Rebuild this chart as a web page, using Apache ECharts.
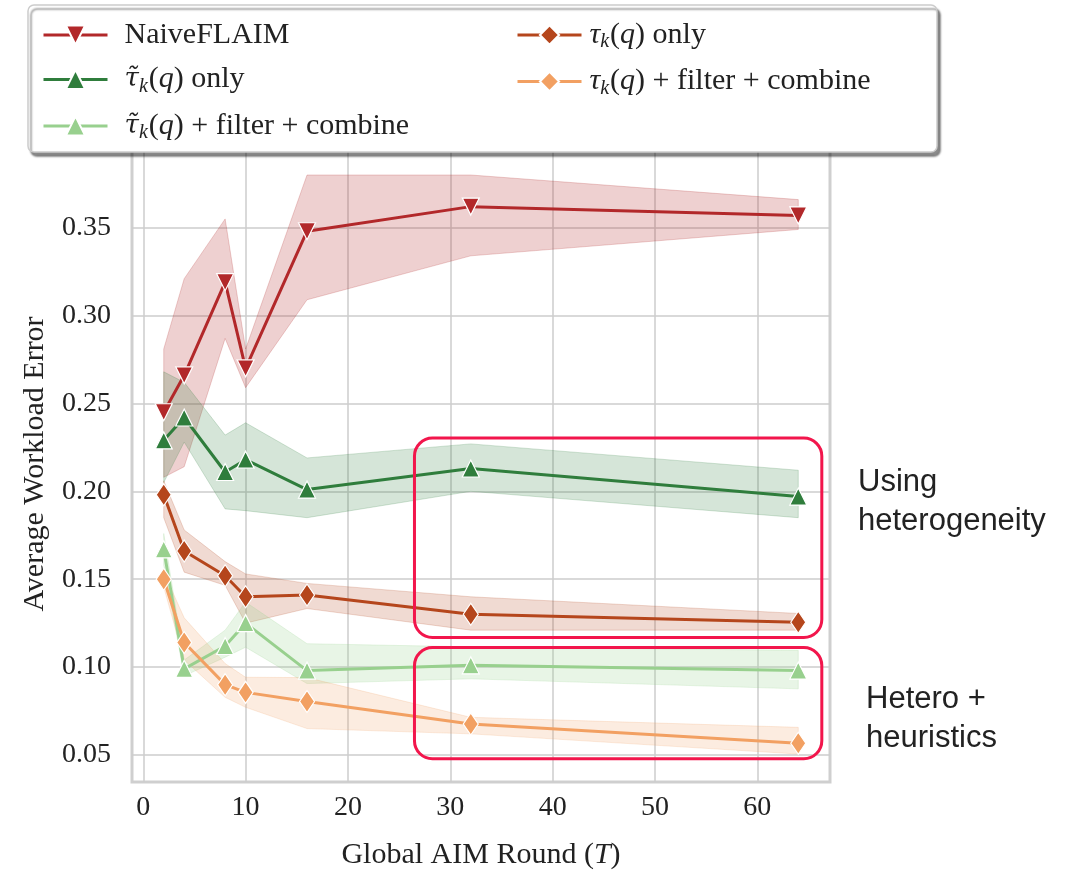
<!DOCTYPE html>
<html><head><meta charset="utf-8">
<script src="https://cdn.jsdelivr.net/npm/echarts@6/dist/echarts.min.js"></script>
<style>html,body{margin:0;padding:0;background:#fff}#c{width:1079px;height:871px}</style>
</head><body><div id="c"></div><script>
// ---- data ----
const rounds = [2, 4, 8, 10, 16, 32, 64];
const xTicks = [0, 10, 20, 30, 40, 50, 60];
const yTicks = [0.05, 0.10, 0.15, 0.20, 0.25, 0.30, 0.35];

const naiveMean = [0.245, 0.266, 0.319, 0.270, 0.348, 0.362, 0.357];
const naiveLow  = [0.208, 0.214, 0.287, 0.259, 0.309, 0.334, 0.349];
const naiveHigh = [0.281, 0.321, 0.355, 0.281, 0.380, 0.380, 0.366];

const tildeMean = [0.229, 0.242, 0.211, 0.218, 0.201, 0.213, 0.197];
const tildeLow  = [0.205, 0.228, 0.190, 0.189, 0.185, 0.200, 0.185];
const tildeHigh = [0.268, 0.262, 0.232, 0.239, 0.219, 0.227, 0.212];

const tauMean = [0.198, 0.166, 0.152, 0.140, 0.141, 0.130, 0.1255];
const tauLow  = [0.185, 0.154, 0.1465, 0.125, 0.1333, 0.121, 0.121];
const tauHigh = [0.206, 0.178, 0.160, 0.153, 0.1476, 0.140, 0.1305];

const tildeFcMean = [0.167, 0.099, 0.112, 0.125, 0.098, 0.101, 0.098];
const tildeFcLow  = [0.158, 0.095, 0.1056, 0.1113, 0.0906, 0.0933, 0.0876];
const tildeFcHigh = [0.176, 0.104, 0.121, 0.137, 0.1133, 0.1115, 0.1095];

const tauFcMean = [0.150, 0.114, 0.090, 0.0856, 0.0804, 0.0676, 0.0566];
const tauFcLow  = [0.1455, 0.104, 0.0828, 0.0771, 0.065, 0.062, 0.0505];
const tauFcHigh = [0.154, 0.128, 0.102, 0.0942, 0.094, 0.0714, 0.0657];

// annotation boxes in data coords [xStart, xEnd, yTop, yBottom]
const boxHetero = [26.5, 66.3, 0.2303, 0.1168];
const boxHeur   = [26.5, 66.3, 0.1111, 0.0478];

// ---- helpers ----
const SERIF = "'Liberation Serif', 'Times New Roman', serif";

function pairs(vals) { return rounds.map((r, i) => [r, vals[i]]); }

function band(name, low, high, fill) {
  return {
    type: 'custom', name: name + ' band', silent: true, z: 1, clip: true,
    data: [[rounds[0], low[0]]],
    encode: { x: 0, y: 1 },
    renderItem: function (params, api) {
      const pts = [];
      for (let i = 0; i < rounds.length; i++) pts.push(api.coord([rounds[i], high[i]]));
      for (let i = rounds.length - 1; i >= 0; i--) pts.push(api.coord([rounds[i], low[i]]));
      return { type: 'polygon', shape: { points: pts }, style: { fill: fill, stroke: fill, lineWidth: 1 } };
    }
  };
}

function line(name, vals, color, symbol, size, rotate) {
  return {
    type: 'line', name: name, data: pairs(vals), z: 3,
    symbol: symbol, symbolSize: size, symbolRotate: rotate || 0, showSymbol: true,
    lineStyle: { color: color, width: 3 },
    itemStyle: { color: color, borderColor: '#ffffff', borderWidth: 1.2 },
    emphasis: { disabled: true }
  };
}

const rich = {
  n: { fontFamily: SERIF, fontSize: 30, color: '#222', lineHeight: 34 },
  i: { fontFamily: SERIF, fontSize: 30, fontStyle: 'italic', color: '#222', lineHeight: 34 },
  t: { fontFamily: "'DejaVu Serif', serif", fontSize: 26, fontStyle: 'italic', color: '#222', lineHeight: 34 },
  s: { fontFamily: SERIF, fontSize: 20, fontStyle: 'italic', color: '#222', lineHeight: 34, verticalAlign: 'bottom', padding: [0, 1, 0, 0] }
};
const legendText = {
  'NaiveFLAIM': '{n|NaiveFLAIM}',
  'tilde only': '{t|\u03C4\u0303}{s|k}{n|(}{i|q}{n|) only}',
  'tilde fc': '{t|\u03C4\u0303}{s|k}{n|(}{i|q}{n|) + filter + combine}',
  'tau only': '{i|\u03C4}{s|k}{n|(}{i|q}{n|) only}',
  'tau fc': '{i|\u03C4}{s|k}{n|(}{i|q}{n|) + filter + combine}'
};

function legend(data, left, padLeft) {
  return {
    data: data, orient: 'vertical', left: left, top: 15, z: 20,
    itemWidth: 64, itemHeight: 24, itemGap: 14.5,
    lineStyle: { width: 3 },
    formatter: n => legendText[n],
    textStyle: { rich: rich, padding: [0, 0, 0, padLeft] },
    selectedMode: false
  };
}

const C = {
  naive: '#b2282a', tilde: '#2f7d3c', tau: '#b5461c', tildeFc: '#98d08e', tauFc: '#f2a062'
};

const chart = echarts.init(document.getElementById('c'), null, { renderer: 'canvas' });
chart.setOption({
  animation: false,
  backgroundColor: '#ffffff',
  grid: { left: 132, right: 249, top: 146, bottom: 89, show: true, borderColor: '#cfcfcf', borderWidth: 3, backgroundColor: 'transparent', outerBoundsMode: 'none', containLabel: false },
  xAxis: {
    type: 'value', min: -1.1, max: 67.1,
    name: '{n|Global AIM Round (}{i|T}{n|)}', nameLocation: 'middle', nameGap: 58,
    nameTextStyle: { rich: { n: { fontFamily: SERIF, fontSize: 30, color: '#222' }, i: { fontFamily: SERIF, fontSize: 30, fontStyle: 'italic', color: '#222' } } },
    axisLine: { show: false }, axisTick: { show: false, customValues: xTicks },
    axisLabel: { customValues: xTicks, fontFamily: SERIF, fontSize: 28, color: '#222', margin: 12 },
    splitLine: { show: true, lineStyle: { color: '#cccccc', width: 1.5 } }
  },
  yAxis: {
    type: 'value', min: 0.0346, max: 0.3965,
    name: 'Average Workload Error', nameLocation: 'middle', nameGap: 82,
    nameTextStyle: { fontFamily: SERIF, fontSize: 30, color: '#222' },
    axisLine: { show: false }, axisTick: { show: false, customValues: yTicks },
    axisLabel: { customValues: yTicks, fontFamily: SERIF, fontSize: 28, color: '#222', margin: 21, formatter: v => v.toFixed(2) },
    splitLine: { show: true, lineStyle: { color: '#cccccc', width: 1.5 } }
  },
  legend: [
    legend(['NaiveFLAIM', 'tilde only', 'tilde fc'], 37, 12),
    legend(['tau only', 'tau fc'], 511, 3)
  ],
  series: [
    band('NaiveFLAIM', naiveLow, naiveHigh, 'rgba(178,40,42,0.22)'),
    band('tilde only', tildeLow, tildeHigh, 'rgba(47,125,60,0.2)'),
    band('tau only', tauLow, tauHigh, 'rgba(181,70,28,0.2)'),
    band('tilde fc', tildeFcLow, tildeFcHigh, 'rgba(152,208,142,0.22)'),
    band('tau fc', tauFcLow, tauFcHigh, 'rgba(242,160,98,0.2)'),
    line('NaiveFLAIM', naiveMean, C.naive, 'triangle', 17, 180),
    line('tilde only', tildeMean, C.tilde, 'triangle', 17),
    line('tilde fc', tildeFcMean, C.tildeFc, 'triangle', 17),
    line('tau only', tauMean, C.tau, 'diamond', [15, 22]),
    line('tau fc', tauFcMean, C.tauFc, 'diamond', [15, 22])
  ]
});

function boxGraphic(b) {
  const p0 = chart.convertToPixel({ gridIndex: 0 }, [b[0], b[2]]);
  const p1 = chart.convertToPixel({ gridIndex: 0 }, [b[1], b[3]]);
  return { type: 'rect', z: 30, shape: { x: p0[0], y: p0[1], width: p1[0] - p0[0], height: p1[1] - p0[1], r: 18 },
    style: { fill: 'none', stroke: '#f2164c', lineWidth: 3 } };
}

chart.setOption({
  graphic: [
    { type: 'rect', z: 10, shape: { x: 28, y: 5, width: 909, height: 147, r: 6 },
      style: { fill: '#ffffff', stroke: '#cccccc', lineWidth: 1.5, shadowColor: 'rgba(0,0,0,0.45)', shadowOffsetX: 3, shadowOffsetY: 4, shadowBlur: 2 } },
    boxGraphic(boxHetero),
    boxGraphic(boxHeur),
    { type: 'text', z: 30, left: 858, top: 463,
      style: { text: 'Using\nheterogeneity', font: "31px 'Liberation Sans', Arial, sans-serif", fill: '#222', lineHeight: 39 } },
    { type: 'text', z: 30, left: 866, top: 680,
      style: { text: 'Hetero +\nheuristics', font: "31px 'Liberation Sans', Arial, sans-serif", fill: '#222', lineHeight: 39 } }
  ]
});
</script></body></html>
